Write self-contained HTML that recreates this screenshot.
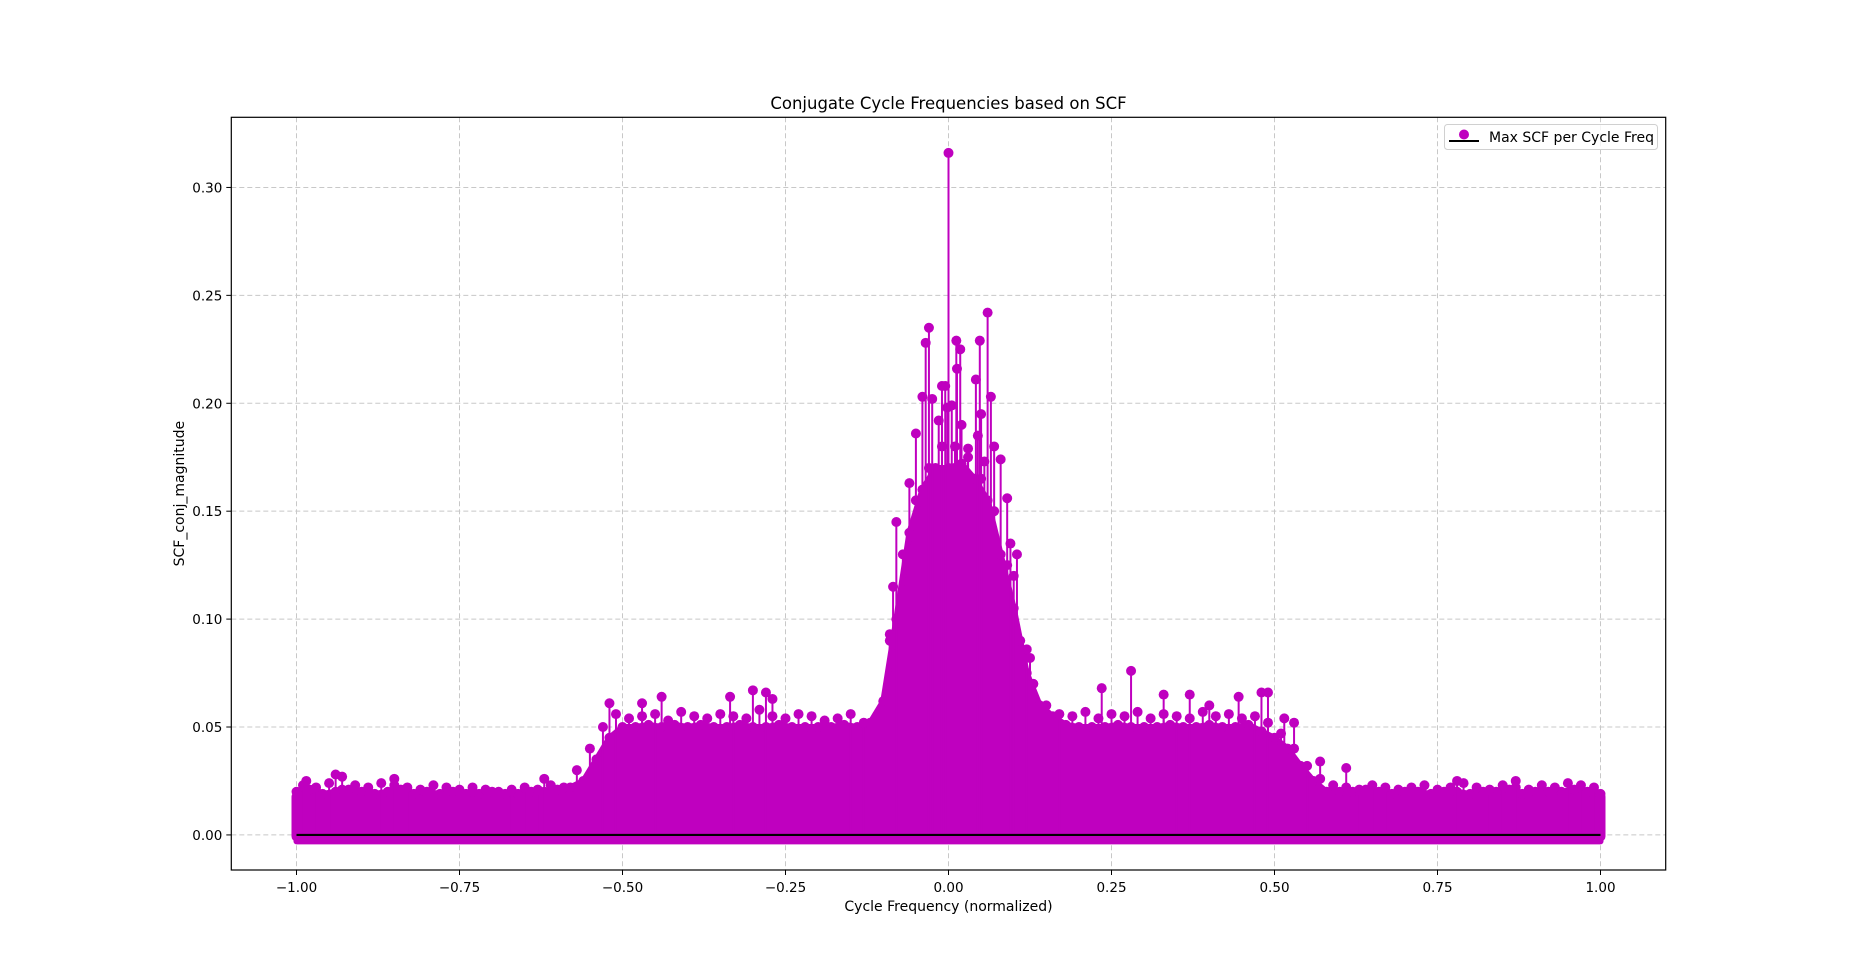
<!DOCTYPE html>
<html><head><meta charset="utf-8"><style>
html,body{margin:0;padding:0;background:#fff;}
svg{display:block;font-family:"DejaVu Sans","Liberation Sans",sans-serif;}
</style></head><body>
<svg id="chart" width="1850" height="977" viewBox="0 0 1850 977"></svg>
<script>
// ---- data ----
const xTicks = [-1.0, -0.75, -0.5, -0.25, 0.0, 0.25, 0.5, 0.75, 1.0];
const xTickLabels = ["\u22121.00","\u22120.75","\u22120.50","\u22120.25","0.00","0.25","0.50","0.75","1.00"];
const yTicks = [0, 0.05, 0.10, 0.15, 0.20, 0.25, 0.30];
const yTickLabels = ["0.00","0.05","0.10","0.15","0.20","0.25","0.30"];
// body envelope, cycle freq -1..1 step 0.02
const bodyFreq = [];
for (let i = 0; i <= 100; i++) bodyFreq.push(+(-1 + i * 0.02).toFixed(2));
const bodyTop = [
0.020,0.021,0.019,0.020,0.021,0.020,0.019,0.020,0.021,0.019,0.020,
0.019,0.020,0.019,0.019,0.020,0.019,0.019,0.020,0.020,0.021,0.022,
0.025,0.035,0.045,0.050,0.050,0.051,0.050,0.051,0.050,0.051,0.050,
0.050,0.051,0.050,0.050,0.051,0.050,0.050,0.050,0.050,0.051,0.050,
0.052,0.062,0.100,0.140,0.160,0.170,0.170,0.172,0.165,0.155,0.130,
0.105,0.075,0.060,0.055,0.051,0.050,0.050,0.050,0.051,0.050,0.050,
0.050,0.051,0.050,0.050,0.051,0.050,0.050,0.051,0.048,0.045,0.040,
0.032,0.025,0.020,0.020,0.020,0.021,0.020,0.019,0.020,0.020,0.019,
0.020,0.020,0.019,0.020,0.020,0.021,0.019,0.020,0.020,0.020,0.021,
0.020,0.019];
// minor stems at midpoints -0.99..0.99 step 0.02
const minorFreq = [];
for (let i = 0; i < 100; i++) minorFreq.push(+(-0.99 + i * 0.02).toFixed(2));
const minorVal = [
0.023,0.022,0.024,0.021,0.023,0.022,0.024,0.023,0.022,0.021,0.023,0.022,0.021,0.022,0.021,0.020,0.021,0.022,0.021,0.023,0.022,
0.030,0.040,0.050,
0.056,0.054,0.055,0.056,0.053,0.057,0.055,0.054,0.056,0.055,0.054,0.058,0.055,0.054,0.056,0.055,0.053,0.054,0.056,0.052,0.055,
0.090,0.130,0.155,0.170,0.180,0.180,0.175,0.165,0.150,0.125,0.090,0.070,0.060,0.056,
0.055,0.057,0.054,0.056,0.055,0.057,0.054,0.056,0.055,0.054,0.057,0.055,0.056,0.054,
0.055,0.052,0.047,0.040,0.032,0.026,
0.023,0.022,0.021,0.023,0.022,0.021,0.022,0.023,0.021,0.022,0.024,0.022,0.021,0.023,0.022,0.021,0.023,0.022,0.024,0.023,0.022];
// spike stems
const peakFreq = [0.0,0.06,-0.03,-0.035,0.012,0.048,0.018,0.013,0.042,0.065,-0.04,-0.025,0.005,-0.002,-0.01,-0.005,0.05,-0.015,0.02,-0.05,0.045,0.03,0.07,0.08,0.055,0.09,-0.08,-0.06,0.095,0.105,-0.085,-0.09,0.1,0.12,0.125,0.13,
0.28,0.235,0.33,0.37,0.48,0.445,0.49,0.515,0.53,-0.52,-0.44,-0.47,-0.3,-0.28,-0.335,-0.27,0.4,0.57,0.61,-0.94,-0.93,-0.85,-0.985,-0.62,0.78,0.87];
const peakVal = [0.316,0.242,0.235,0.228,0.229,0.229,0.225,0.216,0.211,0.203,0.203,0.202,0.199,0.198,0.208,0.208,0.195,0.192,0.190,0.186,0.185,0.179,0.180,0.174,0.173,0.156,0.145,0.163,0.135,0.130,0.115,0.093,0.120,0.086,0.082,0.070,
0.076,0.068,0.065,0.065,0.066,0.064,0.066,0.054,0.052,0.061,0.064,0.061,0.067,0.066,0.064,0.063,0.060,0.034,0.031,0.028,0.027,0.026,0.025,0.026,0.025,0.025];

// ---- axes ----
const L = 231.3, R = 1665.7, T = 117.3, B = 870;
const xMin = -1.1, xMax = 1.1, yMin = -0.01625, yMax = 0.3325;
const sx = v => L + (v - xMin) / (xMax - xMin) * (R - L);
const sy = v => B - (v - yMin) / (yMax - yMin) * (B - T);
const NS = "http://www.w3.org/2000/svg";
const svg = document.getElementById('chart');
function mk(tag, attrs, parent) {
  const e = document.createElementNS(NS, tag);
  for (const k in attrs) e.setAttribute(k, attrs[k]);
  (parent || svg).appendChild(e);
  return e;
}
const C = "#bf00bf";

// grid
const grid = mk('g', {});


xTicks.forEach(v => mk('line', {x1: sx(v), x2: sx(v), y1: T, y2: B, stroke: '#c8c8c8', 'stroke-width': 1, 'stroke-dasharray': '5,3'}, grid));
yTicks.forEach(v => mk('line', {x1: L, x2: R, y1: sy(v), y2: sy(v), stroke: '#c8c8c8', 'stroke-width': 1, 'stroke-dasharray': '5,3'}, grid));

// body
const body = mk('g', {});


let pts = `${sx(bodyFreq[0])},${sy(-0.003)} `;
bodyFreq.forEach((f, i) => pts += `${sx(f)},${sy(bodyTop[i])} `);
pts += `${sx(bodyFreq[bodyFreq.length - 1])},${sy(-0.003)}`;
mk('polygon', {points: pts, fill: C, stroke: C, 'stroke-width': 6, 'stroke-linejoin': 'round'}, body);
bodyFreq.forEach((f, i) => {
  const c = mk('circle', {cx: sx(f), cy: sy(bodyTop[i]), r: 5, fill: C}, body);
  
  
});
minorFreq.forEach((f, i) => {
  const g = mk('g', {}, body);
  
  
  mk('line', {x1: sx(f), x2: sx(f), y1: sy(0), y2: sy(minorVal[i]), stroke: C, 'stroke-width': 2}, g);
  mk('circle', {cx: sx(f), cy: sy(minorVal[i]), r: 5, fill: C}, g);
});
// end caps
[-1, 1].forEach(f => mk('rect', {x: sx(f) - 5, y: sy(0.02), width: 10, height: sy(-0.003) - sy(0.02), rx: 5, fill: C}, body));

// spikes
peakFreq.forEach((f, i) => {
  const g = mk('g', {}, body);
  
  
  mk('line', {x1: sx(f), x2: sx(f), y1: sy(0), y2: sy(peakVal[i]), stroke: C, 'stroke-width': 2}, g);
  mk('circle', {cx: sx(f), cy: sy(peakVal[i]), r: 5, fill: C}, g);
});
// baseline
const bl = mk('line', {x1: sx(-1), x2: sx(1), y1: sy(0), y2: sy(0), stroke: '#000', 'stroke-width': 2.2});



// frame
const fr = mk('rect', {x: L, y: T, width: R - L, height: B - T, fill: 'none', stroke: '#000', 'stroke-width': 1.2});



// ticks
const xt = mk('g', {});


xTicks.forEach((v, i) => {
  mk('line', {x1: sx(v), x2: sx(v), y1: B, y2: B + 5, stroke: '#000', 'stroke-width': 1}, xt);
  const t = mk('text', {x: sx(v), y: B + 22, 'font-size': 13.5, 'text-anchor': 'middle', fill: '#000'}, xt);
  t.textContent = xTickLabels[i];
  
  
});
const yt = mk('g', {});


yTicks.forEach((v, i) => {
  mk('line', {x1: L - 5, x2: L, y1: sy(v), y2: sy(v), stroke: '#000', 'stroke-width': 1}, yt);
  const t = mk('text', {x: L - 9, y: sy(v) + 5, 'font-size': 13.5, 'text-anchor': 'end', fill: '#000'}, yt);
  t.textContent = yTickLabels[i];
  
  
});

// labels
let t = mk('text', {x: (L + R) / 2, y: 109, 'font-size': 16.5, 'text-anchor': 'middle', fill: '#000'});
t.textContent = 'Conjugate Cycle Frequencies based on SCF';


t = mk('text', {x: (L + R) / 2, y: 911, 'font-size': 14, 'text-anchor': 'middle', fill: '#000'});
t.textContent = 'Cycle Frequency (normalized)';


t = mk('text', {x: 0, y: 0, 'font-size': 14, 'text-anchor': 'middle', fill: '#000', transform: `translate(184,${(T + B) / 2}) rotate(-90)`});
t.textContent = 'SCF_conj_magnitude';



// legend
const lg = mk('g', {});


mk('rect', {x: 1444.5, y: 124.5, width: 213, height: 25, rx: 3, fill: '#fff', 'fill-opacity': 0.8, stroke: '#d0d0d0', 'stroke-width': 1}, lg);
mk('line', {x1: 1449, x2: 1479, y1: 141, y2: 141, stroke: '#000', 'stroke-width': 2}, lg);
mk('circle', {cx: 1464, cy: 134.5, r: 5, fill: C}, lg);
t = mk('text', {x: 1489, y: 142, 'font-size': 14, fill: '#000'}, lg);
t.textContent = 'Max SCF per Cycle Freq';


</script>
</body></html>
